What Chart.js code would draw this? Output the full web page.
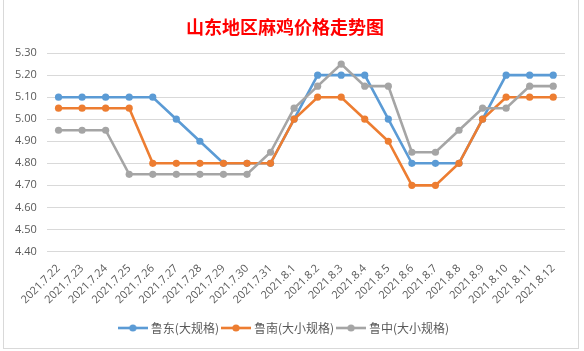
<!DOCTYPE html>
<html>
<head>
<meta charset="utf-8">
<script src="https://cdn.jsdelivr.net/npm/chart.js@4"></script>
<style>
  html, body { margin: 0; padding: 0; background: #fff; }
  #wrap { position: relative; width: 584px; height: 351px; }
  #frame { position: absolute; left: 3px; top: -1px; width: 574px; height: 348px; border: 1px solid #d9d9d9; pointer-events: none; }
</style>
</head>
<body>
<div id="wrap">
  <canvas id="chart" width="584" height="351"></canvas>
  <div id="frame"></div>
</div>
<script>
// 日期
const fechas = [
    '2021.7.22', '2021.7.23', '2021.7.24', '2021.7.25', '2021.7.26', '2021.7.27',
    '2021.7.28', '2021.7.29', '2021.7.30', '2021.7.31', '2021.8.1', '2021.8.2',
    '2021.8.3', '2021.8.4', '2021.8.5', '2021.8.6', '2021.8.7', '2021.8.8',
    '2021.8.9', '2021.8.10', '2021.8.11', '2021.8.12'
];

// 价格 (元/斤)
const ludong = [5.10, 5.10, 5.10, 5.10, 5.10, 5.00, 4.90, 4.80, 4.80, 4.80, 5.00,
    5.20, 5.20, 5.20, 5.00, 4.80, 4.80, 4.80, 5.00, 5.20, 5.20, 5.20];
const lunan = [5.05, 5.05, 5.05, 5.05, 4.80, 4.80, 4.80, 4.80, 4.80, 4.80, 5.00,
    5.10, 5.10, 5.00, 4.90, 4.70, 4.70, 4.80, 5.00, 5.10, 5.10, 5.10];
const luzhong = [4.95, 4.95, 4.95, 4.75, 4.75, 4.75, 4.75, 4.75, 4.75, 4.85, 5.05,
    5.15, 5.25, 5.15, 5.15, 4.85, 4.85, 4.95, 5.05, 5.05, 5.15, 5.15];

const series = ['鲁东(大规格)', '鲁南(大小规格)', '鲁中(大小规格)'];
const colores = ['#5B9BD5', '#ED7D31', '#A5A5A5'];

const yMin = 4.40;
const yMax = 5.30;
const yStep = 0.10;

const textoGris = '#595959';
const fuenteNum = '"Open Sans", "Noto Sans", sans-serif';
const fuenteCJK = '"Noto Sans CJK SC", sans-serif';

// icono de leyenda: línea con círculo (estilo Excel)
function iconoLeyenda(color) {
    const c = document.createElement('canvas');
    c.width = 30;
    c.height = 10;
    const ctx = c.getContext('2d');
    ctx.strokeStyle = color;
    ctx.lineWidth = 2.6;
    ctx.beginPath();
    ctx.moveTo(0, 5);
    ctx.lineTo(30, 5);
    ctx.stroke();
    ctx.fillStyle = color;
    ctx.beginPath();
    ctx.arc(15, 5, 3.6, 0, Math.PI * 2);
    ctx.fill();
    return c;
}

const valores = [ludong, lunan, luzhong];

const datasets = valores.map((data, i) => ({
    label: series[i],
    data: data,
    borderColor: colores[i],
    backgroundColor: colores[i],
    pointBackgroundColor: colores[i],
    pointBorderColor: colores[i],
    borderWidth: 2.6,
    pointRadius: 3.6,
    pointBorderWidth: 0,
    tension: 0,
    fill: false,
    // Excel dibuja la última serie encima
    order: valores.length - 1 - i
}));

new Chart(document.getElementById('chart').getContext('2d'), {
    type: 'line',
    data: {
        labels: fechas,
        datasets: datasets
    },
    options: {
        responsive: false,
        animation: false,
        devicePixelRatio: 1,
        layout: {
            padding: { left: 5, right: 19, top: 0, bottom: 7 }
        },
        plugins: {
            title: {
                display: true,
                text: '山东地区麻鸡价格走势图',
                color: '#FF0000',
                font: { family: fuenteCJK, size: 18, weight: 'bold' },
                padding: { top: 16, bottom: 15.5 }
            },
            legend: {
                display: true,
                position: 'bottom',
                labels: {
                    usePointStyle: true,
                    pointStyleWidth: 24,
                    color: textoGris,
                    font: { family: fuenteCJK, size: 12 },
                    padding: 5,
                    sort: (a, b) => a.datasetIndex - b.datasetIndex,
                    generateLabels: (chart) => chart.data.datasets.map((ds, i) => ({
                        text: ds.label,
                        fillStyle: ds.borderColor,
                        strokeStyle: ds.borderColor,
                        lineWidth: 0,
                        pointStyle: iconoLeyenda(ds.borderColor),
                        fontColor: textoGris,
                        hidden: false,
                        datasetIndex: i
                    }))
                }
            },
            tooltip: { enabled: false }
        },
        scales: {
            x: {
                offset: true,
                grid: { display: false, drawTicks: false },
                border: { display: false },
                ticks: {
                    color: textoGris,
                    font: { family: fuenteNum, size: 11 },
                    minRotation: 45,
                    maxRotation: 45,
                    autoSkip: false,
                    padding: 10.5
                },
                // el eje Y ya deja sitio para la primera etiqueta girada
                afterFit: (scale) => { scale.paddingLeft = 0; }
            },
            y: {
                min: yMin,
                max: yMax,
                grid: { color: '#D9D9D9', lineWidth: 1, drawTicks: false },
                border: { display: false },
                ticks: {
                    stepSize: yStep,
                    color: textoGris,
                    font: { family: fuenteNum, size: 11 },
                    padding: 10,
                    callback: (value) => Number(value).toFixed(2)
                }
            }
        }
    }
});
</script>
</body>
</html>
